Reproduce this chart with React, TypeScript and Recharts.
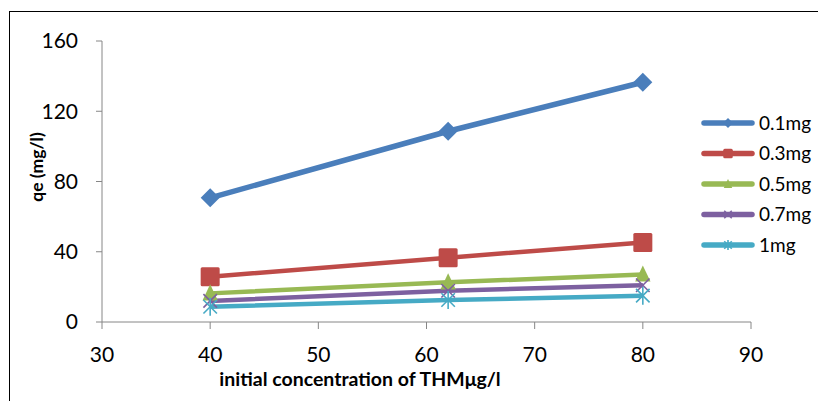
import { LineChart, Line, XAxis, YAxis } from 'recharts';

// initial THM concentration (µg/l) on the x axis
const concentrations = [40, 62, 80];

// qe values, one list per adsorbent dose
const dose01 = [70.7, 108.6, 136.5];
const dose03 = [25.8, 36.6, 45.3];
const dose05 = [16.3, 22.6, 27.1];
const dose07 = [12.0, 17.8, 20.9];
const dose1 = [8.7, 12.5, 15.0];

const seriesNames = ['0.1mg', '0.3mg', '0.5mg', '0.7mg', '1mg'];
const seriesKeys = ['d01', 'd03', 'd05', 'd07', 'd1'];
const seriesColors = ['#4a7ebb', '#be4b48', '#98b954', '#7d60a0', '#46aac5'];
const seriesShapes = ['diamond', 'square', 'triangle', 'x', 'star'];

const xTicks = [30, 40, 50, 60, 70, 80, 90];
const yTicks = [0, 40, 80, 120, 160];

const data = concentrations.map((c, i) => ({
  conc: c,
  d01: dose01[i],
  d03: dose03[i],
  d05: dose05[i],
  d07: dose07[i],
  d1: dose1[i],
}));

const FONT = 'Lato, "Open Sans", sans-serif';

function Marker({ shape, color, cx, cy, r }: { shape: string; color: string; cx: number; cy: number; r: number }) {
  if (shape === 'diamond') {
    return <polygon points={`${cx},${cy - r} ${cx + r},${cy} ${cx},${cy + r} ${cx - r},${cy}`} fill={color} />;
  }
  if (shape === 'square') {
    const s = r * 0.95;
    return <rect x={cx - s} y={cy - s} width={s * 2} height={s * 2} rx={1.5} fill={color} />;
  }
  if (shape === 'triangle') {
    return <polygon points={`${cx},${cy - r} ${cx + r * 0.85},${cy + r * 0.8} ${cx - r * 0.85},${cy + r * 0.8}`} fill={color} />;
  }
  if (shape === 'x') {
    const s = r * 0.75;
    return (
      <g stroke={color} strokeWidth={1.6}>
        <line x1={cx - s} y1={cy - s} x2={cx + s} y2={cy + s} />
        <line x1={cx - s} y1={cy + s} x2={cx + s} y2={cy - s} />
      </g>
    );
  }
  const s = r * 0.75;
  return (
    <g stroke={color} strokeWidth={1.6}>
      <line x1={cx - s} y1={cy - s} x2={cx + s} y2={cy + s} />
      <line x1={cx - s} y1={cy + s} x2={cx + s} y2={cy - s} />
      <line x1={cx} y1={cy - r} x2={cx} y2={cy + r} />
    </g>
  );
}

function makeDot(shape: string, color: string, r: number) {
  return (props: any) => (
    <g key={`${shape}-${props.index}`}>
      <Marker shape={shape} color={color} cx={props.cx} cy={props.cy} r={r} />
    </g>
  );
}

const dotSizes = [9.5, 10, 9, 9, 9];
const lineWidths = [5.5, 4.5, 4.5, 4.5, 4.5];

function LegendBox() {
  return (
    <svg width={131} height={160} style={{ position: 'absolute', left: 695, top: 108 }}>
      {seriesNames.map((name, i) => {
        const y = 15 + i * 30.5;
        return (
          <g key={name}>
            <line x1={9} y1={y} x2={57} y2={y} stroke={seriesColors[i]} strokeWidth={5.5} strokeLinecap="round" />
            <Marker shape={seriesShapes[i]} color={seriesColors[i]} cx={33} cy={y} r={5} />
            <text x={64} y={y} dy="0.36em" fontSize={19} fontFamily={FONT} fill="#000">{name}</text>
          </g>
        );
      })}
    </svg>
  );
}

export default function App() {
  return (
    <div style={{ position: 'relative', width: 826, height: 409, margin: -8, overflow: 'hidden', background: '#fff' }}>
      <div style={{ position: 'absolute', left: 9, top: 11, width: 900, height: 500, border: '1px solid #000' }} />
      <div style={{ position: 'absolute', left: 0, top: 0 }}>
        <LineChart width={826} height={409} data={data} margin={{ top: 41, right: 75, bottom: 57, left: 42 }}>
          <XAxis
            dataKey="conc"
            type="number"
            domain={[30, 90]}
            ticks={xTicks}
            interval={0}
            stroke="#868686"
            tickSize={7}
            tickMargin={18}
            height={30}
            tick={{ fill: '#000', fontSize: 21, fontFamily: FONT }}
            label={{
              content: (p: any) => (
                <text x={p.viewBox.x + 258} y={386} textAnchor="middle" fontSize={19.5} fontWeight="bold" fontFamily={FONT} fill="#000">
                  initial concentration of THMμg/l
                </text>
              ),
            }}
          />
          <YAxis
            type="number"
            domain={[0, 160]}
            ticks={yTicks}
            interval={0}
            width={60}
            stroke="#868686"
            tickSize={6}
            tickMargin={18}
            tick={{ fill: '#000', fontSize: 21, fontFamily: FONT }}
            label={{
              content: () => (
                <text x={36} y={167} transform="rotate(-90 36 167)" textAnchor="middle" dominantBaseline="central" fontSize={17.5} fontWeight="bold" fontFamily={FONT} fill="#000">
                  qe (mg/l)
                </text>
              ),
            }}
          />
          {seriesKeys.map((k, i) => (
            <Line
              key={k}
              dataKey={k}
              name={seriesNames[i]}
              stroke={seriesColors[i]}
              strokeWidth={lineWidths[i]}
              dot={makeDot(seriesShapes[i], seriesColors[i], dotSizes[i])}
              activeDot={false}
              isAnimationActive={false}
            />
          ))}
        </LineChart>
      </div>
      <LegendBox />
    </div>
  );
}
